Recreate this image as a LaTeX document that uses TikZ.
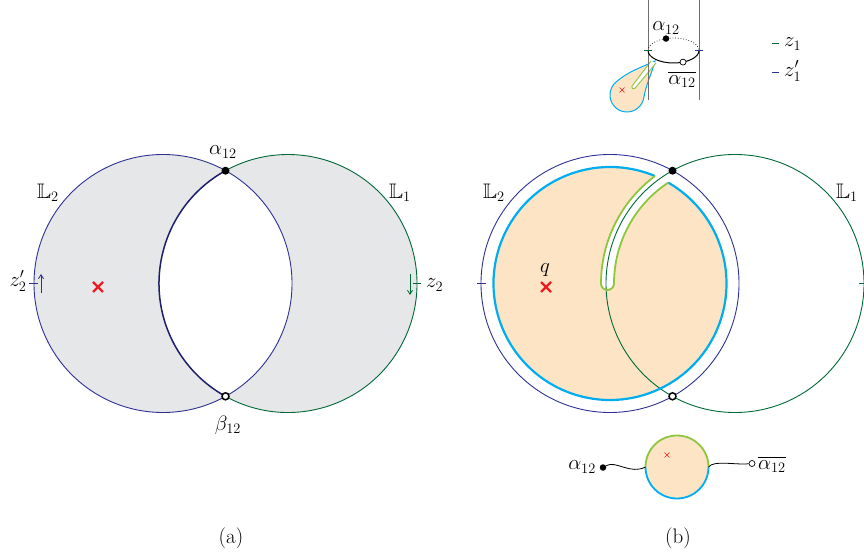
\documentclass[tikz,border=0pt]{standalone}
\usepackage{amssymb}
\usetikzlibrary{arrows.meta,calc}
\definecolor{lblue}{RGB}{46,49,146}
\definecolor{dgreen}{RGB}{0,104,55}
\definecolor{cyanc}{RGB}{0,174,239}
\definecolor{lgreen}{RGB}{141,198,63}
\definecolor{orfill}{RGB}{252,228,196}
\definecolor{grayfill}{RGB}{230,231,232}
\definecolor{redx}{RGB}{237,28,36}
\definecolor{lensblue}{RGB}{28,30,110}
\definecolor{vline}{RGB}{110,110,110}
\begin{document}
\begin{tikzpicture}[x=1pt,y=1pt,font=\fontsize{21}{25}\selectfont,
  bline/.style={lblue,line width=0.9pt},
  gline/.style={dgreen,line width=0.9pt},
  fdot/.style={circle,fill=black,inner sep=0pt,minimum size=8pt},
  odot/.style={circle,draw=black,fill=white,line width=1.5pt,inner sep=0pt,minimum size=7pt},
  sfdot/.style={circle,fill=black,inner sep=0pt,minimum size=6.5pt},
  sodot/.style={circle,draw=black,fill=white,line width=0.7pt,inner sep=0pt,minimum size=6pt},
  lbl/.style={inner sep=1pt},
  bigx/.style={redx,line width=2.2pt},
  smallx/.style={redx,line width=0.6pt},
  barb/.style={-{Straight Barb[length=4pt,width=5pt]},line width=0.8pt}]
\useasboundingbox (0,0) rectangle (864,557);

%================ panel (a) =================
\coordinate (C2a) at (163,273.5);
\coordinate (C1a) at (288,273.5);
\fill[grayfill,even odd rule] (C2a) circle[radius=129pt] (C1a) circle[radius=129pt];
\draw[bline] (C2a) circle[radius=129pt];
\draw[gline] (C1a) ++(-118.99:129pt) arc[start angle=-118.99,end angle=118.99,radius=129pt];
\draw[lensblue,line width=1.5pt] (C1a) ++(118.99:129pt) arc[start angle=118.99,end angle=241.01,radius=129pt];
\node[fdot] (Aa) at (225.5,386.3) {};
\node[odot] (Ba) at (225.5,160.7) {};
\node[lbl] (Aalab) at (223,405) {$\alpha_{12}$};
\node[lbl] (Balab) at (228,132) {$\beta_{12}$};
\node[lbl] (L2a) at (48,364) {$\mathbb{L}_2$};
\node[lbl] (L1a) at (400,364) {$\mathbb{L}_1$};
% ticks and arrows
\draw[bline] (29,273.5) -- (38,273.5);
\draw[lblue,barb] (41,264) -- (41,283);
\node[lbl] (z2p) at (18,276) {$z_2'$};
\draw[gline] (413,273.5) -- (421,273.5);
\draw[dgreen,barb] (410,283) -- (410,262);
\node[lbl,anchor=west] (z2) at (425,272) {$z_2$};
\draw[bigx] (98,270) +(-5,-5) -- +(5,5) +(-5,5) -- +(5,-5);
\node[lbl] (capa) at (231,19) {(a)};

%================ panel (b) =================
\coordinate (C2b) at (610,273.5);
\coordinate (C1b) at (735,273.5);
% orange region with slit
\fill[orfill] (C2b) ++(67.30:116.5pt) coordinate (Po)
  arc[start angle=67.30,end angle=420.01,radius=116.5pt] coordinate (Pi)
  arc[start angle=123.49,end angle=180,radius=121pt]
  arc[start angle=0,end angle=-180,radius=6.5pt]
  arc[start angle=180,end angle=126.68,radius=134pt] -- cycle;
\draw[bline] (C2b) circle[radius=129pt];
\draw[gline] (C1b) circle[radius=129pt];
\draw[cyanc,line width=2.2pt] (Po) arc[start angle=67.30,end angle=420.01,radius=116.5pt];
\draw[lgreen,line width=1.8pt] (Pi)
  arc[start angle=123.49,end angle=180,radius=121pt]
  arc[start angle=0,end angle=-180,radius=6.5pt]
  arc[start angle=180,end angle=126.68,radius=134pt];
\node[fdot] (Ab) at (672.5,386.3) {};
\node[odot] (Bb) at (672.5,160.7) {};
\node[lbl] (L2b) at (494,364) {$\mathbb{L}_2$};
\node[lbl] (L1b) at (847,364) {$\mathbb{L}_1$};
\draw[bline] (477,273.5) -- (486,273.5);
\draw[gline] (859,273.5) -- (868,273.5);
\draw[bigx] (546,270) +(-5,-5) -- +(5,5) +(-5,5) -- +(5,-5);
\node[lbl] (q) at (545,287) {$q$};
\node[lbl] (capb) at (678,19) {(b)};

%================ top inset =================
\coordinate (T) at (655,496);
\coordinate (B) at (627,462);
\filldraw[fill=orfill,draw=cyanc,line width=1pt] (T) to[out=205,in=40] ($(B)+(130:17pt)$)
  arc[start angle=130,end angle=350,radius=17pt] to[out=80,in=255] (T) -- cycle;
\filldraw[fill=white,draw=lgreen,line width=0.9pt,rounded corners=1.5pt]
  (651,496) -- (631,469.5) -- (634,467.5) -- (656,494);
\draw[smallx] (622,467) +(-2.5,-2.5) -- +(2.5,2.5) +(-2.5,2.5) -- +(2.5,-2.5);
\draw[vline,line width=1pt] (648,557) -- (648,457);
\draw[vline,line width=1pt] (699,557) -- (699,457);
\coordinate (E) at (673.5,506.5);
\draw[black,line width=0.7pt,dotted] (648,506.5) arc[start angle=180,end angle=0,x radius=25.5pt,y radius=12.5pt];
\draw[black,line width=1pt] (648,506.5) arc[start angle=180,end angle=360,x radius=25.5pt,y radius=12.5pt];
\draw[dgreen,line width=0.9pt] (644,506.5) -- (652,506.5);
\draw[lblue,line width=0.9pt] (695,506.5) -- (703,506.5);
\node[sfdot] (At) at ($(E)+(107.1:25.5pt and 12.5pt)$) {};
\node[sodot] (Bt) at ($(E)+(-68.1:25.5pt and 12.5pt)$) {};
\node[lbl] (Atlab) at (666,529) {$\alpha_{12}$};
\node[lbl] (Btlab) at (682,478) {$\overline{\alpha_{12}}$};
% legend
\draw[dgreen,line width=0.9pt] (772,514) -- (779,514);
\node[lbl,anchor=west] (z1) at (783,513) {$z_1$};
\draw[lblue,line width=0.9pt] (772,485) -- (779,485);
\node[lbl,anchor=west] (z1p) at (783,486) {$z_1'$};

%================ bottom inset =================
\coordinate (Cs) at (677,90);
\fill[orfill] (Cs) circle[radius=31.5pt];
\draw[lgreen,line width=1.8pt] (Cs) ++(180:31.5pt) arc[start angle=180,end angle=0,radius=31.5pt];
\draw[cyanc,line width=1.8pt] (Cs) ++(180:31.5pt) arc[start angle=180,end angle=360,radius=31.5pt];
\draw[smallx] (667,102) +(-2.5,-2.5) -- +(2.5,2.5) +(-2.5,2.5) -- +(2.5,-2.5);
\coordinate (wl) at (645.5,90);
\coordinate (wr) at (708.5,90);
\node[sfdot] (dl) at (603,89.5) {};
\node[sodot] (dr) at (752,93.5) {};
\draw[black,line width=0.8pt] (dl) .. controls (616,97) and (630,82) .. (wl);
\draw[black,line width=0.8pt] (wr) .. controls (714,97) and (734,92) .. (dr);
\node[lbl,anchor=east] (dllab) at (597,90) {$\alpha_{12}$};
\node[lbl,anchor=west] (drlab) at (757,93) {$\overline{\alpha_{12}}$};
\end{tikzpicture}
\end{document}
